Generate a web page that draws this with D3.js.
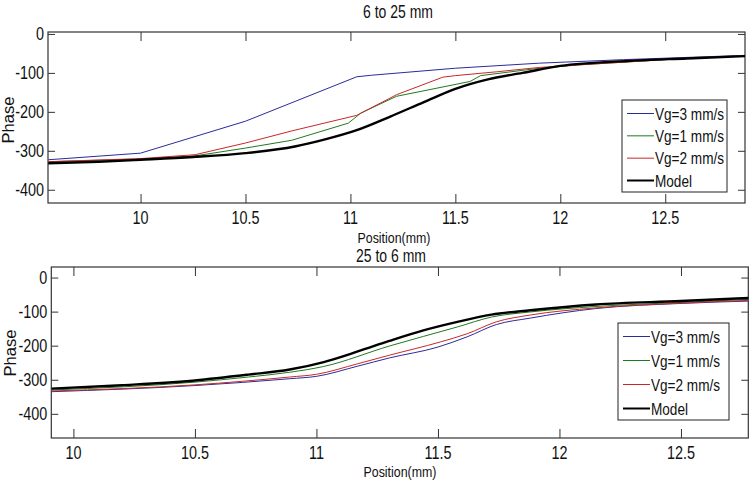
<!DOCTYPE html>
<html>
<head>
<meta charset="utf-8">
<script src="https://cdn.jsdelivr.net/npm/d3@7"></script>
<style>
  body { margin: 0; background: #fff; }
  svg { display: block; font-family: "Liberation Sans", Arial, sans-serif; }
</style>
</head>
<body>
<div id="chart"></div>
<script>
// values, one small array per curve

// top panel: 6 to 25 mm
var topModelX = [9.56, 9.8, 10.0, 10.25, 10.5, 10.735, 10.87, 11.03, 11.19, 11.35, 11.5, 11.66, 11.82, 12.0, 12.33, 12.6, 12.88]
var topModelY = [-332, -328, -323, -316, -306, -289, -272, -247, -212, -175, -141, -116, -100, -82, -69, -63, -57]
var topVg3X = [9.56, 10.0, 10.5, 11.03, 11.1, 11.5, 11.9, 12.3, 12.88]
var topVg3Y = [-323, -306, -224, -110, -106, -88, -75, -66, -55]
var topVg1X = [9.56, 10.0, 10.26, 10.5, 10.72, 10.99, 11.05, 11.22, 11.57, 11.62, 11.9, 12.1, 12.5, 12.88]
var topVg1Y = [-328, -321, -313, -293, -273, -229, -203, -160, -122, -107, -88, -79, -66, -56]
var topVg2X = [9.56, 10.0, 10.26, 10.5, 10.72, 11.03, 11.22, 11.44, 11.5, 11.7, 11.9, 12.1, 12.5, 12.88]
var topVg2Y = [-328, -320, -310, -280, -249, -209, -156, -111, -107, -97, -86, -79, -66, -56]

// bottom panel: 25 to 6 mm
var botModelX = [9.91, 10.2, 10.5, 10.72, 10.89, 11.03, 11.17, 11.3, 11.44, 11.58, 11.72, 11.88, 12.15, 12.5, 12.78]
var botModelY = [-326, -316, -302, -285, -270, -248, -217, -186, -155, -130, -109, -96, -79, -69, -60]
var botVg3X = [9.91, 10.5, 10.89, 11.0, 11.17, 11.3, 11.5, 11.62, 11.74, 11.88, 12.15, 12.5, 12.78]
var botVg3Y = [-335, -317, -297, -290, -260, -236, -204, -174, -138, -119, -91, -76, -69]
var botVg1X = [9.91, 10.5, 10.72, 10.89, 11.03, 11.3, 11.58, 11.72, 11.88, 12.15, 12.5, 12.78]
var botVg1Y = [-330, -307, -292, -278, -261, -201, -145, -116, -101, -85, -73, -64]
var botVg2X = [9.91, 10.5, 10.89, 11.0, 11.17, 11.3, 11.51, 11.62, 11.74, 11.88, 12.15, 12.5, 12.78]
var botVg2Y = [-333, -315, -292, -284, -253, -228, -189, -165, -130, -110, -89, -75, -67]

var legendNames = ["Vg=3 mm/s", "Vg=1 mm/s", "Vg=2 mm/s", "Model"]
var xTicks = [10, 10.5, 11, 11.5, 12, 12.5]
var yTicks = [0, -100, -200, -300, -400]

var colors = {"Vg=3 mm/s": "#2b2b9a", "Vg=1 mm/s": "#1f7a1f", "Vg=2 mm/s": "#c82828", "Model": "#000"}

function zip(xs, ys) {
    return xs.map((x, i) => ({x: x, y: ys[i]}))
}

var panels = [
    {
        title: "6 to 25 mm",
        box: {left: 48, right: 745, top: 32, bottom: 203},
        xDomain: [9.559, 12.88], yDomain: [-434, 5],
        titleX: 398, titleY: 18, xLabelX: 394, xLabelY: 243, phaseX: 14, phaseY: 120,
        legend: {x: 622, y: 100, w: 105, h: 92},
        smoothAll: false,
        series: {
            "Vg=3 mm/s": zip(topVg3X, topVg3Y),
            "Vg=1 mm/s": zip(topVg1X, topVg1Y),
            "Vg=2 mm/s": zip(topVg2X, topVg2Y),
            "Model": zip(topModelX, topModelY)
        }
    },
    {
        title: "25 to 6 mm",
        box: {left: 51.3, right: 748.3, top: 267, bottom: 438},
        xDomain: [9.909, 12.777], yDomain: [-471, 31],
        titleX: 391, titleY: 262, xLabelX: 400, xLabelY: 477, phaseX: 16, phaseY: 353,
        legend: {x: 618, y: 323, w: 111, h: 97},
        smoothAll: true,
        series: {
            "Vg=3 mm/s": zip(botVg3X, botVg3Y),
            "Vg=1 mm/s": zip(botVg1X, botVg1Y),
            "Vg=2 mm/s": zip(botVg2X, botVg2Y),
            "Model": zip(botModelX, botModelY)
        }
    }
]

var svg = d3.select("#chart").append("svg")
    .attr("width", 756)
    .attr("height", 484)

// the picture is squeezed sideways, so text is narrowed the same way
var squeeze = 0.8

function narrowText(g, x, y, txt, size, anchor) {
    return g.append("text")
        .attr("transform", `translate(${x},${y}) scale(${squeeze},1)`)
        .attr("text-anchor", anchor || "middle")
        .attr("font-size", size)
        .attr("fill", "#111")
        .text(txt)
}

panels.forEach(p => {
    var b = p.box
    var x = d3.scaleLinear().domain(p.xDomain).range([b.left, b.right])
    var y = d3.scaleLinear().domain(p.yDomain).range([b.bottom, b.top])

    var g = svg.append("g")

    // ticks on all four sides, pointing inward
    var axisStroke = "#333"
    g.append("g").attr("transform", `translate(0,${b.bottom})`)
        .call(d3.axisBottom(x).tickValues(xTicks).tickSizeInner(-9).tickSizeOuter(0).tickFormat(""))
    g.append("g").attr("transform", `translate(0,${b.top})`)
        .call(d3.axisTop(x).tickValues(xTicks).tickSizeInner(-9).tickSizeOuter(0).tickFormat(""))
    g.append("g").attr("transform", `translate(${b.left},0)`)
        .call(d3.axisLeft(y).tickValues(yTicks).tickSizeInner(-7).tickSizeOuter(0).tickFormat(""))
    g.append("g").attr("transform", `translate(${b.right},0)`)
        .call(d3.axisRight(y).tickValues(yTicks).tickSizeInner(-7).tickSizeOuter(0).tickFormat(""))
    g.selectAll(".domain").remove()
    g.selectAll(".tick line").attr("stroke", axisStroke)

    g.append("rect")
        .attr("x", b.left).attr("y", b.top)
        .attr("width", b.right - b.left).attr("height", b.bottom - b.top)
        .attr("fill", "none").attr("stroke", axisStroke).attr("stroke-width", 1.2)

    // tick labels
    xTicks.forEach(t => narrowText(g, x(t), b.bottom + 20.5, String(t), 18))
    yTicks.forEach(t => narrowText(g, b.left - 4, y(t) + 6.5, String(t), 18, "end"))

    // curves
    var straight = d3.line().x(d => x(d.x)).y(d => y(d.y))
    var smooth = d3.line().x(d => x(d.x)).y(d => y(d.y)).curve(d3.curveMonotoneX)
    var clipId = "clip" + b.top
    svg.append("clipPath").attr("id", clipId).append("rect")
        .attr("x", b.left).attr("y", b.top)
        .attr("width", b.right - b.left).attr("height", b.bottom - b.top)
    var curves = g.append("g").attr("clip-path", `url(#${clipId})`)
    legendNames.forEach(name => {
        var isModel = name == "Model"
        curves.append("path")
            .datum(p.series[name])
            .attr("d", (isModel || p.smoothAll) ? smooth : straight)
            .attr("fill", "none")
            .attr("stroke", colors[name])
            .attr("stroke-width", isModel ? 2.4 : 1)
            .attr("stroke-linejoin", "round")
    })

    // titles
    narrowText(g, p.titleX, p.titleY, p.title, 17.5)
    narrowText(g, p.xLabelX, p.xLabelY, "Position(mm)", 15.5)
    g.append("text")
        .attr("transform", `translate(${p.phaseX},${p.phaseY}) rotate(-90) `)
        .attr("text-anchor", "middle")
        .attr("font-size", 16.5)
        .attr("fill", "#111")
        .text("Phase")

    // legend
    var L = p.legend
    var lg = g.append("g")
    lg.append("rect")
        .attr("x", L.x).attr("y", L.y).attr("width", L.w).attr("height", L.h)
        .attr("fill", "#fff").attr("stroke", "#222").attr("stroke-width", 1)
    var step = (L.h - 25) / 3
    legendNames.forEach((name, i) => {
        var ly = L.y + 13.5 + step * i
        lg.append("line")
            .attr("x1", L.x + 5).attr("x2", L.x + 32)
            .attr("y1", ly).attr("y2", ly)
            .attr("stroke", colors[name])
            .attr("stroke-width", name == "Model" ? 2 : 1)
        narrowText(lg, L.x + 33, ly + 6, name, 17, "start")
    })
})
</script>
</body>
</html>
